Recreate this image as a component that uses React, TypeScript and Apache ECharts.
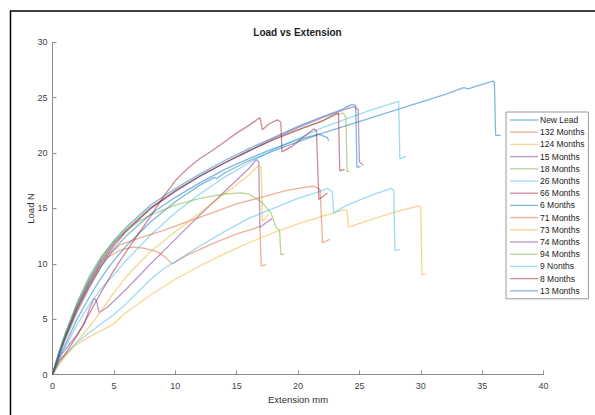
import React, { useEffect, useRef } from "react";
import * as echarts from "echarts";

// ---- data (x = extension mm, y = load N) ----
const seriesNames = [
  "New Lead", "132 Months", "124 Months", "15 Months", "18 Months",
  "26 Months", "66 Months", "6 Months", "71 Months", "73 Months",
  "74 Months", "94 Months", "9 Nonths", "8 Months", "13 Months",
];

const newLead = [[0,0],[0.5,1.4],[1,2.6],[2,5.0],[3,7.0],[4,8.8],[5,10.3],[6,11.6],[8,13.8],[10,15.6],[12,17.1],[13.2,17.8],[13.4,17.7],[14,18.2],[16,19.3],[18,20.2],[20,21.0],[22,21.8],[24,22.5],[26,23.2],[28,23.9],[30,24.6],[32,25.3],[33.5,25.9],[33.9,25.8],[34.4,26.0],[35.9,26.5],[36.0,26.4],[36.1,21.6],[36.5,21.6]];
const m132 = [[0,0],[0.5,1.7],[1,3.2],[2,5.8],[3,8.0],[3.8,9.6],[4.5,10.6],[5.5,11.2],[6.5,11.5],[7.5,11.4],[8.5,11.1],[9.2,10.6],[9.6,10.1],[9.8,10.0],[11,10.8],[13,11.8],[15,12.7],[16.5,13.2],[16.9,13.4],[17.0,9.8],[17.4,9.9]];
const m124 = [[0,0],[0.5,1.0],[1.7,2.5],[3,3.4],[4.9,4.5],[6,5.6],[8,7.2],[10,8.6],[12,9.8],[14,10.9],[16,11.9],[18,12.8],[20,13.6],[22,14.3],[23.8,14.9],[24.0,14.8],[24.1,13.3],[26,14.0],[28,14.7],[29.8,15.2],[30.0,15.1],[30.1,9.0],[30.4,9.1]];
const m15 = [[0,0],[0.3,1.2],[1,2.2],[2,3.6],[2.6,4.6],[3,5.9],[3.4,6.9],[3.6,6.6],[3.8,5.6],[4.5,6.1],[6,7.7],[8,10.0],[10,12.2],[12,14.4],[14,16.5],[16,18.6],[16.6,19.4],[16.8,19.2],[16.9,13.3],[17.9,14.1]];
const m18 = [[0,0],[0.5,1.8],[1,3.4],[2,6.2],[3,8.5],[4,10.4],[5,11.9],[6,13.1],[8,15.1],[10,16.6],[12,17.9],[14,19.1],[16,20.2],[18,21.2],[20,22.1],[22,22.9],[23.2,23.5],[23.7,23.6],[23.9,23.2],[24.0,18.3],[24.2,18.4]];
const m26 = [[0,0],[0.5,1.2],[1,2.4],[2,4.5],[3,6.3],[4,7.8],[5,9.0],[6,10.3],[8,12.6],[10,14.6],[12,16.3],[14,17.8],[16,19.1],[18,20.3],[20,21.3],[22,22.3],[24,23.1],[26,23.9],[28,24.6],[28.2,24.7],[28.3,19.5],[28.8,19.7]];
const m66 = [[0,0],[0.5,1.7],[1,3.3],[2,6.0],[3,8.2],[4,10.1],[5,11.6],[6,12.9],[8,15.0],[10,16.6],[12,17.9],[14,19.1],[16,20.2],[18,21.2],[20,22.1],[22,22.9],[23,23.5],[23.3,23.6],[23.4,18.4],[23.8,18.5]];
const m6 = [[0,0],[0.5,1.9],[1,3.6],[2,6.4],[3,8.7],[4,10.6],[5,12.1],[6,13.3],[8,15.3],[10,16.8],[12,18.1],[14,19.3],[16,20.4],[18,21.4],[20,22.4],[22,23.3],[23.5,23.9],[24.4,24.4],[24.7,24.3],[24.8,18.7],[25.1,18.8]];
const m71 = [[0,0],[0.5,1.6],[1,3.0],[2,5.6],[3,7.8],[4,9.8],[4.5,10.8],[5.5,11.7],[7,12.3],[9,13.0],[11,13.8],[13,14.6],[15,15.4],[17,16.0],[19,16.6],[20.5,16.9],[21.3,17.0],[21.8,16.7],[22.0,11.9],[22.6,12.2]];
const m73 = [[0,0],[1,1.6],[2,3.0],[3,4.3],[4,5.8],[5,7.4],[6,8.8],[7,10.0],[8,11.1],[10,12.9],[12,14.6],[14,16.3],[16,18.0],[16.8,18.9],[17.0,18.7],[17.1,13.8],[17.6,14.5]];
const m74 = [[0,0],[0.5,1.7],[1,3.3],[2,6.1],[3,8.4],[4,10.3],[5,11.8],[6,13.0],[8,15.0],[10,16.5],[12,17.9],[14,19.1],[16,20.2],[18,21.3],[20,22.3],[22,23.2],[24,24.0],[24.6,24.2],[24.9,23.9],[25.0,19.2],[25.3,18.9]];
const m94 = [[0,0],[0.5,2.0],[1,3.6],[2,6.5],[3,8.9],[4,10.7],[5,12.0],[6,13.0],[7,13.8],[8,14.4],[10,15.3],[12,15.9],[14,16.3],[15.3,16.4],[16,16.3],[17,15.6],[17.8,14.6],[18.2,13.3],[18.5,13.0],[18.6,10.8],[18.9,10.9]];
const m9 = [[0,0],[0.5,1.0],[1,1.8],[2,2.9],[3,3.8],[4,4.6],[5,5.4],[6,6.4],[7,7.5],[8,8.6],[9,9.5],[10,10.2],[12,11.6],[14,12.9],[16,14.1],[18,15.0],[20,15.9],[22,16.6],[22.4,16.8],[22.8,16.5],[22.9,14.6],[24,15.3],[26,16.2],[27.6,16.8],[27.8,16.6],[27.9,11.2],[28.3,11.3]];
const m8 = [[0,0],[0.5,1.2],[1,1.8],[2,3.5],[3,5.5],[4,7.5],[5,9.4],[6,11.1],[7,12.7],[8,14.3],[9,16.0],[10,17.5],[11,18.6],[12,19.5],[13,20.2],[14,21.0],[15,21.8],[16,22.5],[16.9,23.2],[17.1,22.1],[17.6,22.6],[18.3,23.0],[18.6,22.8],[18.7,20.1],[19.5,20.6],[20.5,21.5],[21.3,22.2],[21.5,22.0],[21.7,15.8],[22.4,16.4]];
const m13 = [[0,0],[0.5,1.7],[1,3.2],[2,5.8],[3,8.0],[4,9.8],[5,11.3],[6,12.5],[8,14.5],[10,16.0],[12,17.3],[14,18.5],[16,19.5],[18,20.4],[20,21.2],[21.7,21.7],[22.4,21.4],[22.5,21.1]];

const seriesData = [newLead, m132, m124, m15, m18, m26, m66, m6, m71, m73, m74, m94, m9, m8, m13];

const xTicks = { min: 0, max: 40, interval: 5 };
const yTicks = { min: 0, max: 30, interval: 5 };

const palette = [
  "rgba(0,114,189,0.5)",
  "rgba(217,83,25,0.45)",
  "rgba(237,177,32,0.5)",
  "rgba(126,47,142,0.5)",
  "rgba(119,172,48,0.5)",
  "rgba(77,190,238,0.55)",
  "rgba(162,20,47,0.5)",
];

const FONT = "'Liberation Sans', Arial, Helvetica, sans-serif";

export default function App() {
  const ref = useRef<HTMLDivElement>(null);
  useEffect(() => {
    if (!ref.current) return;
    const chart = echarts.init(ref.current, undefined, { renderer: "svg" });
    const axisCommon = {
      axisLine: { show: true, lineStyle: { color: "#8c8c8c", width: 1 } },
      axisTick: { show: true, inside: true, length: 4, lineStyle: { color: "#8c8c8c" } },
      axisLabel: { color: "#444", fontSize: 9, fontFamily: FONT },
      splitLine: { show: false },
      nameTextStyle: { color: "#333", fontSize: 9.5, fontFamily: FONT },
    };
    chart.setOption({
      animation: false,
      textStyle: { fontFamily: FONT },
      title: {
        text: "Load vs Extension",
        left: "center",
        top: 22,
        textStyle: { fontSize: 10, fontWeight: "bold", color: "#222", fontFamily: FONT },
      },
      grid: { left: 52.5, right: 51.5, top: 42.3, bottom: 40.5, containLabel: false },
      xAxis: {
        type: "value",
        ...xTicks,
        name: "Extension mm",
        nameLocation: "middle",
        nameGap: 20,
        nameMoveOverlap: false,
        ...axisCommon,
        axisLabel: { ...axisCommon.axisLabel, margin: 7 },
      },
      yAxis: {
        type: "value",
        ...yTicks,
        name: "Load N",
        nameLocation: "middle",
        nameGap: 17,
        nameMoveOverlap: false,
        ...axisCommon,
        axisLabel: { ...axisCommon.axisLabel, margin: 5 },
      },
      legend: {
        orient: "vertical",
        left: 506,
        top: 112,
        icon: "rect",
        itemWidth: 28,
        itemHeight: 1.3,
        itemGap: 2.2,
        padding: [3, 4, 3, 4],
        borderColor: "#9a9a9a",
        borderWidth: 1,
        backgroundColor: "#fff",
        textStyle: { fontSize: 8.5, lineHeight: 10, color: "#222", fontFamily: FONT, padding: [0, 0, 0, -3] },
        data: seriesNames,
      },
      graphic: [
        {
          type: "rect",
          shape: { x: 10.5, y: 11, width: 700, height: 500 },
          style: { fill: "none", stroke: "#000", lineWidth: 1.5 },
          silent: true,
        },
      ],
      series: seriesNames.map((name, i) => ({
        name,
        type: "line",
        data: seriesData[i],
        showSymbol: false,
        symbol: "none",
        smooth: false,
        color: palette[i % palette.length],
        lineStyle: { width: 1.3, color: palette[i % palette.length] },
      })),
    });
    return () => chart.dispose();
  }, []);
  return (
    <div
      ref={ref}
      style={{ position: "absolute", left: 0, top: 0, width: 595, height: 415 }}
    />
  );
}
